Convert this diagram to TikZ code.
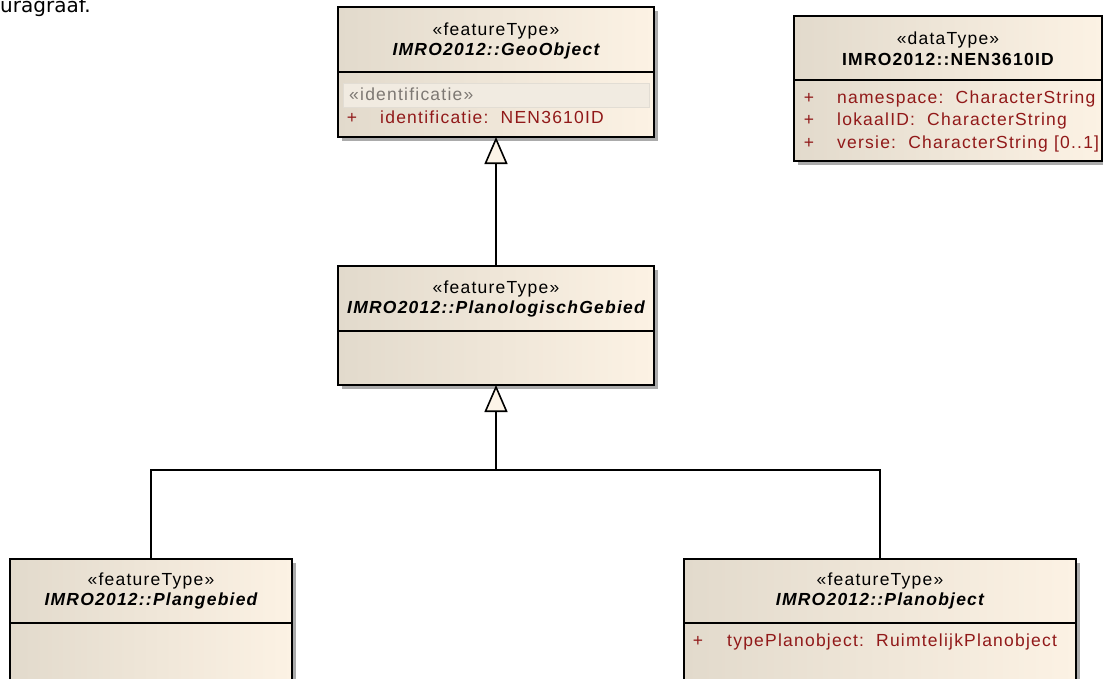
\documentclass[tikz,border=0pt]{standalone}
\usepackage{fontspec}
\setmainfont{Liberation Sans}[LetterSpace=7]
\newfontfamily\dejavu{DejaVu Sans}
\usetikzlibrary{arrows.meta,shadows}
\definecolor{shL}{RGB}{226,218,204}
\definecolor{shR}{RGB}{252,242,228}
\definecolor{attr}{RGB}{145,25,25}
\definecolor{trifill}{RGB}{252,244,232}
\definecolor{bandfill}{RGB}{241,235,225}
\definecolor{bandline}{RGB}{226,221,212}
\definecolor{stgray}{RGB}{125,120,115}
\tikzset{
  umlbox/.style={draw=black, line width=1.5pt, left color=shL, right color=shR,
    inner sep=0pt, outer sep=0pt, anchor=north west,
    drop shadow={shadow xshift=4pt, shadow yshift=-4pt, fill=black!33, opacity=1}},
  divline/.style={line width=1.2pt},
  stereo/.style={font=\fontsize{17.5}{19}\selectfont, anchor=base, inner sep=0pt},
  ttl/.style={font=\fontsize{17.5}{19}\selectfont\bfseries\itshape, anchor=base, inner sep=0pt},
  ttlup/.style={font=\fontsize{17.5}{19}\selectfont\bfseries, anchor=base, inner sep=0pt},
  attrtxt/.style={font=\fontsize{17.5}{19}\selectfont, text=attr, anchor=base west, inner sep=0pt},
  plus/.style={font=\fontsize{17.5}{19}\selectfont, text=attr, anchor=base, inner sep=0pt},
  conn/.style={line width=2pt},
  gen/.style={conn, -{Triangle[open, length=27pt, width=23pt, fill=trifill, line width=1.6pt]}},
}
\begin{document}
\begin{tikzpicture}[x=1pt, y=-1pt]
\clip (0,0) rectangle (1103,678);
\fill[white] (0,0) rectangle (1103,678);

% fragment of text at top left
\node[font=\dejavu\fontsize{20}{22}\selectfont, anchor=base west, inner sep=0pt] (para) at (0,12.5) {uragraaf.};

% GeoObject
\node[umlbox, minimum width=316pt, minimum height=130pt] (geo) at (338,7) {};
\draw[divline] (338,72) -- (654,72);
\node[stereo] (geoS) at (496,35) {«featureType»};
\node[ttl] (geoN) at (496,55) {IMRO2012::GeoObject};
\node[draw=bandline, fill=bandfill, line width=0.6pt, anchor=north west, minimum width=306pt, minimum height=24pt, inner sep=0pt] (geoBand) at (343,83) {};
\node[font=\fontsize{17.5}{19}\selectfont, text=stgray, anchor=base west, inner sep=0pt] (geoBandT) at (349,100) {«identificatie»};
\node[plus] (geoP) at (352,123) {+};
\node[attrtxt] (geoA) at (380,123) {identificatie:\ \ NEN3610ID};

% NEN3610ID
\node[umlbox, minimum width=308pt, minimum height=145pt] (nen) at (794,16) {};
\draw[divline] (794,80) -- (1102,80);
\node[stereo] (nenS) at (948,44) {«dataType»};
\node[ttlup] (nenN) at (948,65) {IMRO2012::NEN3610ID};
\node[plus] (nenP1) at (809,103) {+};
\node[attrtxt] (nenA1) at (837,103) {namespace:\ \ CharacterString};
\node[plus] (nenP2) at (809,125) {+};
\node[attrtxt] (nenA2) at (837,125) {lokaalID:\ \ CharacterString};
\node[plus] (nenP3) at (809,148) {+};
\node[attrtxt] (nenA3) at (837,148) {versie:\ \ CharacterString [0..1]};

% PlanologischGebied
\node[umlbox, minimum width=316pt, minimum height=119pt] (plan) at (338,266) {};
\draw[divline] (338,331) -- (654,331);
\node[stereo] (planS) at (496,293) {«featureType»};
\node[ttl] (planN) at (496,313) {IMRO2012::PlanologischGebied};

% Plangebied
\node[umlbox, minimum width=282pt, minimum height=140pt] (pgb) at (10,559) {};
\draw[divline] (10,623) -- (292,623);
\node[stereo] (pgbS) at (151,585) {«featureType»};
\node[ttl] (pgbN) at (151,605) {IMRO2012::Plangebied};

% Planobject
\node[umlbox, minimum width=392pt, minimum height=140pt] (pob) at (684,559) {};
\draw[divline] (684,623) -- (1076,623);
\node[stereo] (pobS) at (880,585) {«featureType»};
\node[ttl] (pobN) at (880,605) {IMRO2012::Planobject};
\node[plus] (pobP) at (698,646) {+};
\node[attrtxt] (pobA) at (727,646) {typePlanobject:\ \ RuimtelijkPlanobject};

% connectors
\coordinate (j) at (496,470);
\draw[gen] (plan.north) -- (geo.south);
\draw[gen] (j) -- (plan.south);
\draw[conn] (pgb.north) |- (j);
\draw[conn] (pob.north) |- (j);
\end{tikzpicture}
\end{document}
